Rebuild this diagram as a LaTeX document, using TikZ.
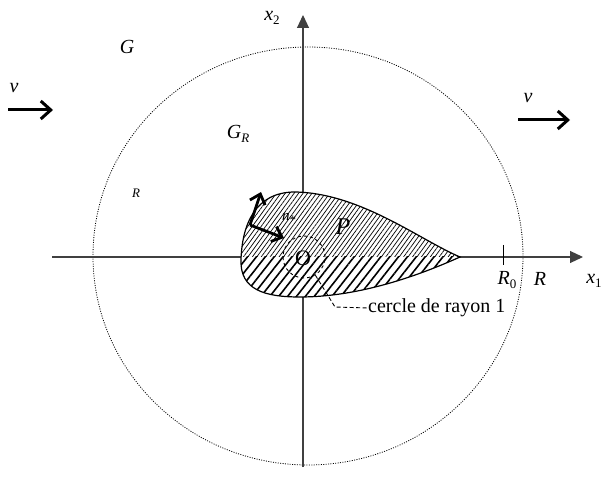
\documentclass[tikz,border=0pt]{standalone}
\usepackage{fontspec}
\setmainfont{Liberation Serif}
\usetikzlibrary{arrows.meta,patterns.meta}
\newcommand\lowsub[1]{\raisebox{-0.5ex}{\fontsize{13}{14}\selectfont\upshape #1}}
\tikzset{
  axis/.style={draw=black!75, line width=1.1pt, -{Triangle[length=13pt,width=12pt]}},
  flow/.style={line width=3pt, -{Straight Barb[length=10pt,width=18pt]}},
  normalvec/.style={line width=2.8pt, -{Straight Barb[length=9pt,width=16pt]}},
  lab/.style={font=\fontsize{20}{22}\selectfont\itshape, inner sep=0pt},
  smalllab/.style={font=\fontsize{13}{14}\selectfont\itshape, inner sep=0pt},
  rightlab/.style={font=\fontsize{20}{22}\selectfont, inner sep=0pt},
}
\def\Pshape{(460,257) .. controls (420,240) and (360,193) .. (295,192) .. controls (255,192) and (242,225) .. (241,260) .. controls (240,290) and (265,297) .. (300,297) .. controls (360,297) and (420,275) .. (460,257) -- cycle}
\begin{document}
\begin{tikzpicture}[x=1pt,y=-1pt]
\useasboundingbox (0,0) rectangle (605,494);
% domain boundary
\draw[line width=0.8pt, dash pattern=on 1pt off 1.4pt] (308,256) ellipse [x radius=215, y radius=209];
% axes
\coordinate (xs) at (52,257); \coordinate (xe) at (583,257);
\coordinate (ys) at (303,467); \coordinate (ye) at (303,15);
\draw[axis] (xs) -- (xe);
\draw[axis] (ys) -- (ye);
% tick R0
\coordinate (t1) at (503,245); \coordinate (t2) at (503,265);
\draw[line width=1pt] (t1) -- (t2);
% obstacle P
\fill[white] \Pshape;
\begin{scope}
  \clip \Pshape;
  \fill[pattern={Lines[angle=54,distance=3.6pt,line width=0.7pt]}] (230,180) rectangle (470,257);
  \fill[pattern={Lines[angle=52,distance=7pt,line width=1.6pt]}] (230,257) rectangle (470,305);
\end{scope}
\draw[line width=1.2pt] \Pshape;
% unit circle
\node[circle, draw, dashed, line width=0.9pt, minimum size=42pt, inner sep=0pt] (c1) at (304,257) {};
\node[font=\fontsize{22}{24}\selectfont, inner sep=0pt] (O) at (303,258) {O};
\coordinate (bend) at (335,307);
\node[rightlab, anchor=west] (capt) at (368,308) {cercle de rayon 1};
\draw[line width=0.9pt, dash pattern=on 4pt off 2.5pt] (c1.-58) -- (bend) -- (capt.west);
% normal vectors
\coordinate (nv) at (250,225);
\coordinate (nt1) at (261,192);
\coordinate (nt2) at (284,238);
\draw[normalvec] (nv) -- (nt1);
\draw[normalvec] (nv) -- (nt2);
\node[font=\fontsize{15}{16}\selectfont\itshape, inner sep=0pt] (n) at (289,219) {n\lowsub{*}};
% flow arrows
\coordinate (vl1) at (8,110); \coordinate (vl2) at (53,110);
\coordinate (vr1) at (518,120); \coordinate (vr2) at (570,120);
\draw[flow] (vl1) -- (vl2);
\draw[flow] (vr1) -- (vr2);
% labels
\node[lab] (G) at (127,47) {G};
\node[lab] (vl) at (14,88) {v};
\node[lab] (GR) at (238,134) {G\lowsub{\itshape R}};
\node[smalllab] (Rs) at (136,193) {R};
\node[lab] (vr) at (528,98) {v};
\node[lab] (x2) at (272,18) {x\lowsub{2}};
\node[font=\fontsize{24}{26}\selectfont\itshape, inner sep=0pt] (P) at (343,227) {P};
\node[lab] (R0) at (507,280) {R\lowsub{0}};
\node[lab] (Rr) at (540,279) {R};
\node[lab] (x1) at (594,281) {x\lowsub{1}};
\end{tikzpicture}
\end{document}
